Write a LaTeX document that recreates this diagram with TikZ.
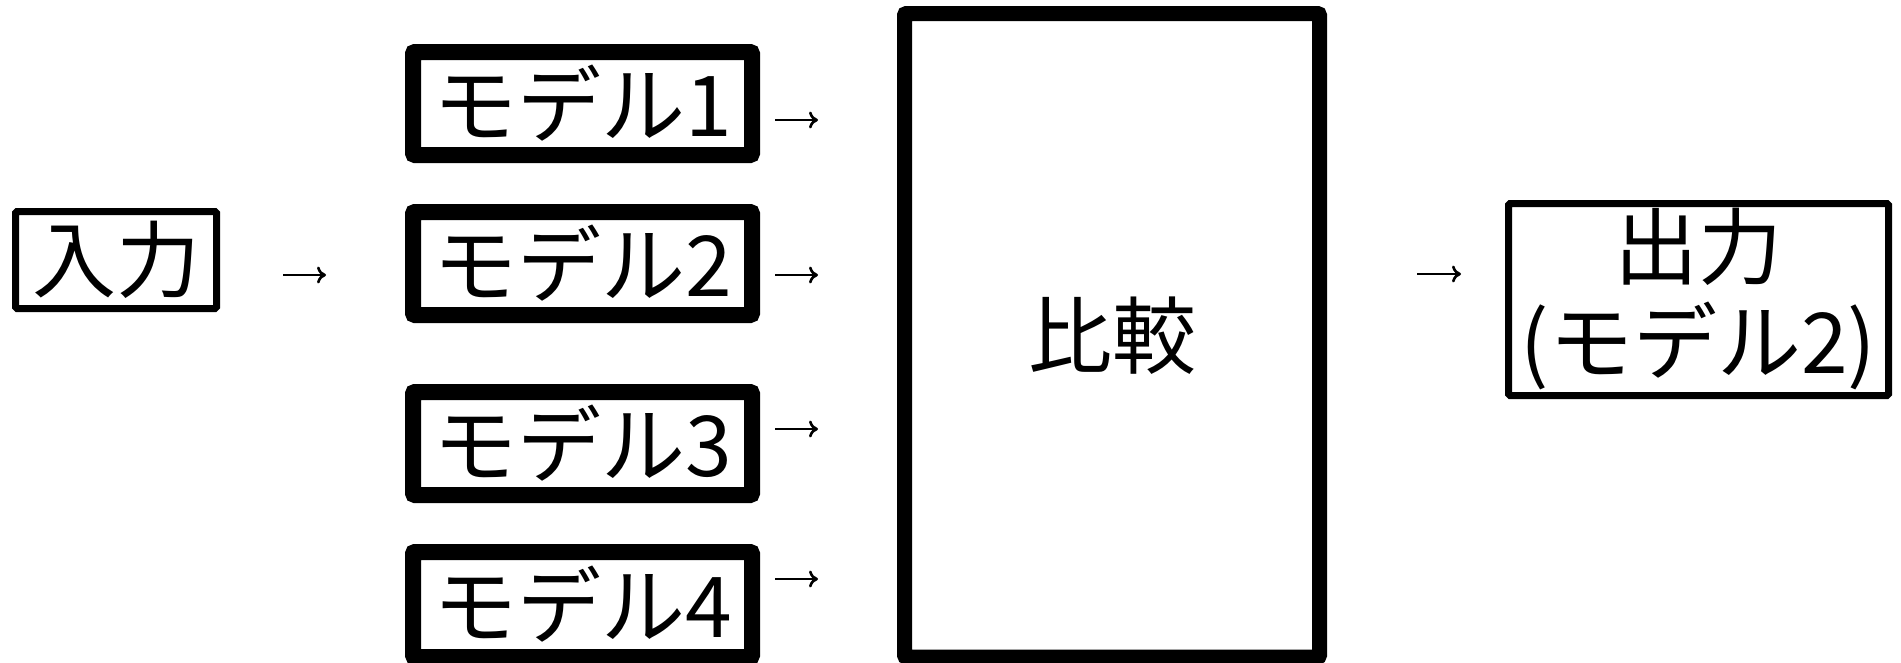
\documentclass[tikz,border=0pt]{standalone}
\usepackage{fontspec}
\setmainfont{Noto Sans CJK JP}
\usetikzlibrary{arrows.meta}
\tikzset{
  thinbox/.style={draw, line width=7pt, rounded corners=1.5pt, inner sep=0pt, align=center},
  thickbox/.style={draw, line width=16pt, rounded corners=2pt, inner sep=0pt, align=center, minimum width=339pt, minimum height=103pt},
  arr/.style={line width=2.6pt, -{To[length=9pt,width=17pt]}},
  lbl/.style={font=\fontsize{84}{95}\selectfont}
}
\begin{document}
\begin{tikzpicture}[x=1pt,y=-1pt]
\useasboundingbox (0,0) rectangle (1901,662);
\fill[white] (0,0) rectangle (1901,662);
% input
\node[thinbox, lbl, minimum width=201pt, minimum height=97pt] (in) at (116,260) {入力};
% models
\node[thickbox, lbl] (m1) at (582.5,103.5) {モデル1};
\node[thickbox, lbl] (m2) at (582.5,263.5) {モデル2};
\node[thickbox, lbl] (m3) at (582.5,443.5) {モデル3};
\node[thickbox, lbl, minimum height=105pt] (m4) at (582.5,604.5) {モデル4};
% comparison
\node[draw, line width=15pt, rounded corners=2pt, inner sep=0pt, lbl, minimum width=415pt, minimum height=643.5pt] (cmp) at (1112,335.25) {比較};
% output
\node[thinbox, lbl, minimum width=380pt, minimum height=192pt] (out) at (1698.5,299.5) {出力\\(モデル2)};
% arrows
\coordinate (a0s) at (283,275); \coordinate (a0e) at (326,275);
\coordinate (a1s) at (775,120); \coordinate (a1e) at (818,120);
\coordinate (a2s) at (775,275); \coordinate (a2e) at (818,275);
\coordinate (a3s) at (775,429); \coordinate (a3e) at (818,429);
\coordinate (a4s) at (775,579); \coordinate (a4e) at (818,579);
\coordinate (a5s) at (1417,274); \coordinate (a5e) at (1461,274);
\draw[arr] (a0s) -- (a0e);
\draw[arr] (a1s) -- (a1e);
\draw[arr] (a2s) -- (a2e);
\draw[arr] (a3s) -- (a3e);
\draw[arr] (a4s) -- (a4e);
\draw[arr] (a5s) -- (a5e);
\end{tikzpicture}
\end{document}
